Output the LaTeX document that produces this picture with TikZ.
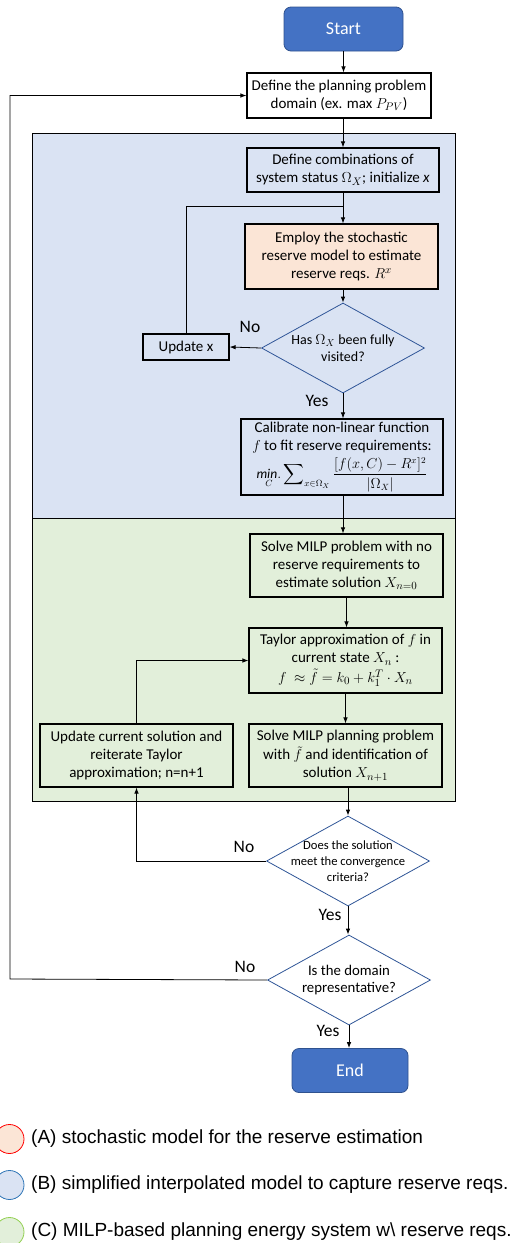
\documentclass[tikz,border=0pt]{standalone}
\usepackage{fontspec}
\usepackage{amsmath}
\setmainfont{Carlito}
\newfontfamily\legendfont{Liberation Sans}
\usetikzlibrary{shapes.geometric,arrows.meta}
\definecolor{startblue}{HTML}{4472C4}
\definecolor{startline}{HTML}{2F528F}
\definecolor{bluebg}{HTML}{DAE3F3}
\definecolor{greenbg}{HTML}{E2EFDA}
\definecolor{orangebg}{HTML}{FBE5D6}
\definecolor{decline}{HTML}{2F5597}
\definecolor{legblue}{HTML}{2E75B6}
\definecolor{leggreen}{HTML}{92D050}
\newcommand\flowfont{\fontsize{15}{18}\selectfont}
\tikzset{
 arr/.style={-{Latex[length=6pt,width=4.5pt]}, line width=0.8pt},
 box/.style={draw, line width=1.2pt, align=center, font=\flowfont, inner sep=1pt},
 term/.style={draw=startline, fill=startblue, rounded corners=7pt, text=white, font=\fontsize{18}{20}\selectfont, minimum width=119pt, minimum height=44pt, line width=0.8pt},
 dec/.style={diamond, draw=decline, fill=white, line width=0.8pt, minimum width=163pt, minimum height=90pt, inner sep=0pt},
 dectxt/.style={align=center, font=\fontsize{12.6}{15.7}\selectfont},
 yn/.style={font=\fontsize{17.5}{20}\selectfont},
 legdot/.style={circle, minimum size=29pt, line width=0.8pt, inner sep=0pt},
 legtxt/.style={anchor=west, font=\legendfont\fontsize{19}{22}\selectfont, inner sep=0pt}
}
\begin{document}
\begin{tikzpicture}[x=1pt,y=-1pt]
 \useasboundingbox (0,0) rectangle (512,1243);
 \draw[line width=0.8pt, fill=bluebg] (32,133) rectangle (455,518);
 \draw[line width=0.8pt, fill=greenbg] (32,518) rectangle (455,801);

 \node[term] (start) at (343.5,29) {Start};
 \node[box, fill=white, minimum width=184pt, minimum height=45pt] (define) at (339,95.5) {Define the planning problem\\ domain (ex. max $P_{PV}$)};
 \node[box, minimum width=192pt, minimum height=44pt] (combos) at (343,170) {Define combinations of\\ system status $\Omega_X$; initialize \textit{x}};
 \node[box, fill=orangebg, minimum width=193pt, minimum height=65pt] (employ) at (341.5,256.5) {Employ the stochastic\\ reserve model to estimate\\ reserve reqs. $R^x$};
 \node[dec, label={[dectxt, font=\fontsize{14}{17}\selectfont]center:{Has $\Omega_X$ been fully\\ visited?}}, fill=bluebg] (d1) at (343,348) {};
 \node[box, minimum width=86pt, minimum height=26pt] (updx) at (186,347) {Update x};
 \node[box, minimum width=202pt, minimum height=76pt] (calib) at (342,457) {Calibrate non-linear function\\ $f$ to fit reserve requirements:\\[3pt] {\fontsize{13.5}{15}\selectfont$\mathop{\mathit{min.}}\limits_{C}\displaystyle\sum\nolimits_{x\in\Omega_X}\frac{[f(x,C)-R^x]^2}{|\Omega_X|}$}};
 \node[box, minimum width=193pt, minimum height=63pt] (solve1) at (346.5,565.5) {Solve MILP problem with no\\ reserve requirements to\\ estimate solution $X_{n=0}$};
 \node[box, minimum width=193pt, minimum height=65pt] (taylor) at (345.5,660.5) {Taylor approximation of $f$ in\\ current state $X_n$ :\\[1.5pt] $f\ \approx \tilde{f} = k_0 + k_1^T\cdot X_n$};
 \node[box, minimum width=193pt, minimum height=63pt] (solveplan) at (345.5,755.5) {Solve MILP planning problem\\[1.5pt] with $\tilde{f}$ and identification of\\ solution $X_{n+1}$};
 \node[box, minimum width=193pt, minimum height=63pt] (upd2) at (136.5,755.5) {Update current solution and\\ reiterate Taylor\\ approximation; n=n+1};
 \node[dec, label={[dectxt]center:{Does the solution\\ meet the convergence\\ criteria?}}] (d2) at (348,861) {};
 \node[dec, label={[dectxt, font=\fontsize{14.8}{17.5}\selectfont]center:{Is the domain\\ representative?}}] (d3) at (349,980) {};
 \node[term, minimum width=116pt] (end) at (350,1070.5) {End};

 \node[yn] (no1) at (250,327) {No};
 \node[yn] (yes1) at (317,401) {Yes};
 \node[yn] (no2) at (244,847) {No};
 \node[yn] (yes2) at (330,915) {Yes};
 \node[yn] (no3) at (245,967) {No};
 \node[yn] (yes3) at (328,1031) {Yes};

 \coordinate (j1) at (343,206);
 \coordinate (back) at (10,979);
 \draw[arr] (start.south) -- (start.south |- define.north);
 \draw[arr] (combos.north |- define.south) -- (combos.north);
 \draw[arr] (combos.south) -- (combos.south |- employ.north);
 \draw[arr] (d1.north |- employ.south) -- (d1.north);
 \draw[arr] (d1.west) -- (updx.east);
 \draw[line width=0.8pt] (updx.north) |- (j1);
 \draw[arr] (d1.south) -- (d1.south |- calib.north);
 \draw[arr] (d1.south |- calib.south) -- (d1.south |- solve1.north);
 \draw[arr] (solve1.south) -- (solve1.south |- taylor.north);
 \draw[arr] (taylor.south) -- (taylor.south |- solveplan.north);
 \draw[arr] (upd2.north) |- (taylor.west);
 \draw[arr] (d2.north |- solveplan.south) -- (d2.north);
 \draw[arr] (d2.west) -| (upd2.south);
 \draw[arr] (d2.south) -- (d2.south |- d3.north);
 \draw[arr] (d3.west) -- (back) |- (define.west);
 \draw[arr] (d3.south) -- (d3.south |- end.north);

 \node[legdot, draw=red, fill=orangebg] (ca) at (9.5,1139) {};
 \node[legdot, draw=legblue, fill=bluebg] (cb) at (9.5,1185) {};
 \node[legdot, draw=leggreen, fill=greenbg] (cc) at (9.5,1232) {};
 \node[legtxt] (la) at (31,1139) {(A) stochastic model for the reserve estimation};
 \node[legtxt] (lb) at (31,1185) {(B) simplified interpolated model to capture reserve reqs.};
 \node[legtxt] (lc) at (31,1232) {(C) MILP-based planning energy system w\textbackslash{} reserve reqs.};
\end{tikzpicture}
\end{document}
